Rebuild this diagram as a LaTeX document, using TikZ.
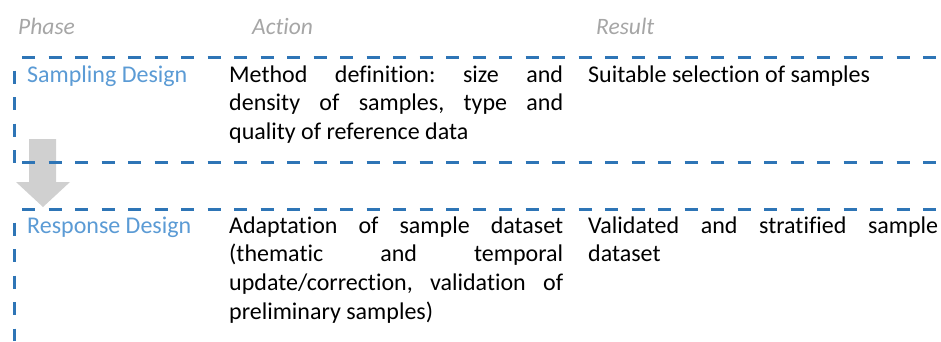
\documentclass[tikz,border=0pt]{standalone}
\usepackage{fontspec}
\setmainfont{Carlito}[RawFeature=-liga]
\definecolor{frameblue}{HTML}{2E75B6}
\definecolor{phaseblue}{HTML}{5B9BD5}
\definecolor{headgray}{HTML}{A6A6A6}
\definecolor{arrowgray}{HTML}{D0D0D0}
\newcommand{\nohyph}{\frenchspacing\hyphenpenalty=10000\relax\exhyphenpenalty=10000\relax}
\begin{document}
\begin{tikzpicture}[x=1pt,y=1pt,
  frame/.style={draw=frameblue,line width=3pt,dash pattern=on 13pt off 13.5pt},
  hframe/.style={frame,dash phase=18.5pt},
  vframe/.style={frame,dash phase=13pt},
  header/.style={anchor=base west,inner sep=0pt,text=headgray,font=\fontsize{23.5}{29}\selectfont\itshape},
  phase/.style={anchor=base west,inner sep=0pt,text=phaseblue,font=\fontsize{24}{29}\selectfont},
  cell/.style={anchor=base west,inner sep=0pt,align=justify,
    font=\fontsize{24}{28.8}\selectfont\nohyph}]
\useasboundingbox (0,0) rectangle (941,-341);
\fill[white] (0,0) rectangle (941,-341);

% column headers
\node[header] (hphase) at (18,-34) {Phase};
\node[header] (haction) at (252,-34) {Action};
\node[header] (hresult) at (596,-34) {Result};

% transition arrow between the two phases
\fill[arrowgray] (29,-139) -- (56,-139) -- (56,-182) -- (70,-182) -- (43,-207)
  -- (16,-182) -- (29,-182) -- cycle;

% dashed frames of the two phases
\draw[hframe] (14,-57) -- (941,-57);
\draw[vframe] (14,-57) -- (14,-163);
\draw[hframe] (14,-162) -- (941,-162);
\draw[hframe] (14,-209) -- (941,-209);
\draw[vframe] (14,-209) -- (14,-341);

% sampling design row
\node[phase] (p1) at (27,-82) {Sampling Design};
\node[cell,text width=334pt] (a1) at (229,-82)
  {Method definition: size and\linebreak density of samples, type and\linebreak quality of reference data};
\node[cell,text width=350pt] (r1) at (588,-82)
  {Suitable selection of samples};

% response design row
\node[phase] (p2) at (27,-233) {Response Design};
\node[cell,text width=334pt] (a2) at (229,-233)
  {Adaptation of sample dataset\linebreak (thematic and temporal\linebreak update/correction, validation of\linebreak preliminary samples)};
\node[cell,text width=350pt] (r2) at (588,-233)
  {Validated and stratified sample\linebreak dataset};
\end{tikzpicture}
\end{document}
